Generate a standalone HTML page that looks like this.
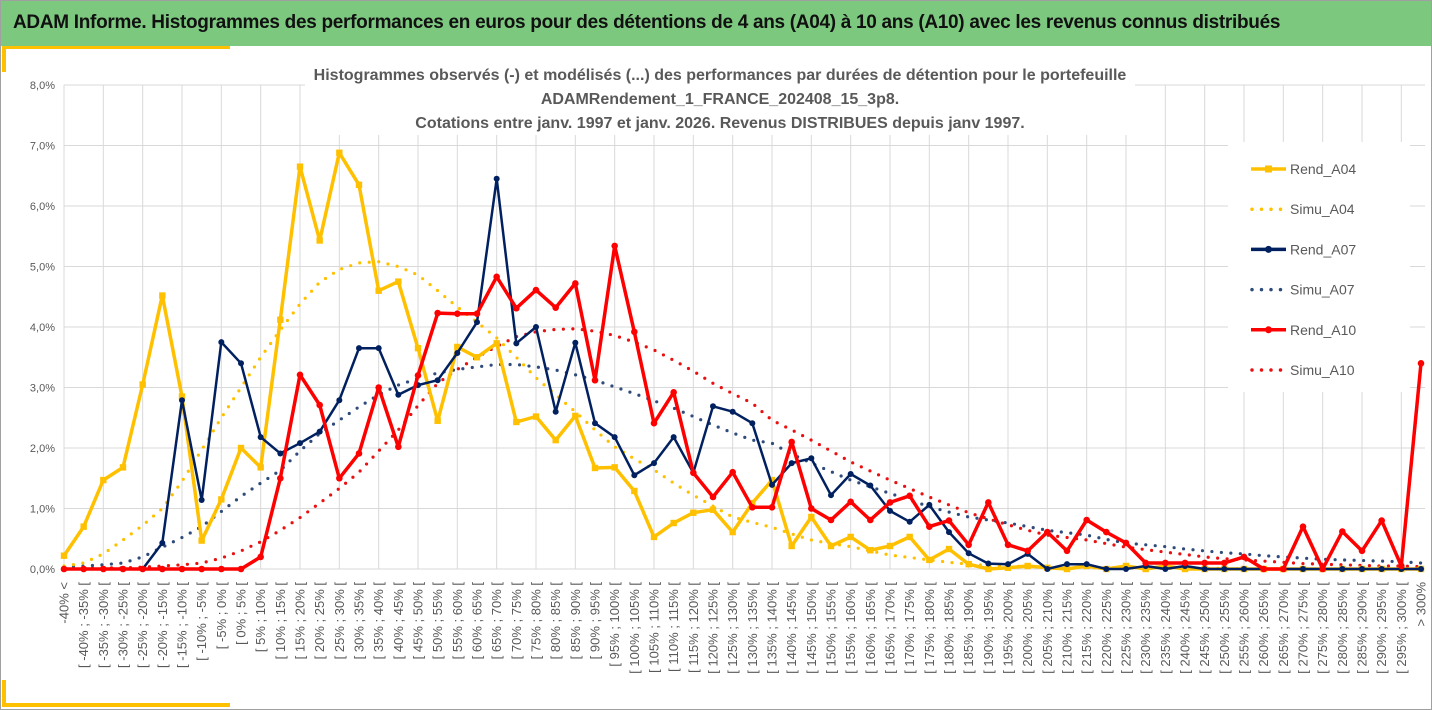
<!DOCTYPE html>
<html><head><meta charset="utf-8">
<style>
html,body{margin:0;padding:0;background:#fff;}
body{width:1432px;height:710px;overflow:hidden;position:relative;font-family:"Liberation Sans",sans-serif;}
#frame{position:absolute;left:0;top:0;width:1430px;height:708px;border:1px solid #a0a0a0;}
#header{position:absolute;left:1px;top:1px;width:1430px;height:45px;background:#7dc87f;}
#header span{position:absolute;left:12px;top:11px;font-size:19px;font-weight:bold;color:#111;white-space:nowrap;letter-spacing:-0.3px;}
</style></head><body>
<div id="frame"></div>
<div id="header"><span>ADAM Informe. Histogrammes des performances en euros pour des détentions de 4 ans (A04) à 10 ans (A10) avec les revenus connus distribués</span></div>
<svg id="chart" width="1432" height="710" style="position:absolute;left:0;top:0">
  <rect x="5" y="46" width="225" height="3" fill="#ffc000"/>
  <rect x="2" y="46" width="4" height="26" fill="#ffc000"/>
  <rect x="5" y="703" width="225" height="4" fill="#ffc000"/>
  <rect x="2" y="680" width="4" height="27" fill="#ffc000"/>
  <g id="grid"></g>
  <rect x="305" y="60" width="830" height="75" fill="#fff"/>
  <g font-family="Liberation Sans, sans-serif" font-size="16" font-weight="bold" fill="#595959" text-anchor="middle">
    <text x="720" y="80">Histogrammes observés (-) et modélisés (...) des performances par durées de détention pour le portefeuille</text>
    <text x="720" y="104">ADAMRendement_1_FRANCE_202408_15_3p8.</text>
    <text x="720" y="128">Cotations entre janv. 1997 et janv. 2026. Revenus DISTRIBUES depuis janv 1997.</text>
  </g>
  <g id="yaxis"></g>
  <g id="xaxis"></g>
  <g id="series"></g>
  <g id="legend"></g>
</svg>
<script>
const rendA04=[0.22,0.7,1.47,1.68,3.05,4.52,2.85,0.47,1.15,2.0,1.68,4.12,6.65,5.43,6.88,6.35,4.6,4.75,3.65,2.45,3.67,3.5,3.73,2.43,2.52,2.13,2.53,1.67,1.68,1.29,0.53,0.76,0.93,0.98,0.61,1.09,1.47,0.38,0.86,0.38,0.53,0.31,0.38,0.53,0.15,0.33,0.08,0.0,0.02,0.05,0.02,0,0.05,0,0.05,0,0.05,0,0,0,0,0,0,0,0,0,0,0,0,0];
const simuA04=[0.05,0.1,0.25,0.48,0.72,1.0,1.45,1.97,2.5,3.0,3.5,3.95,4.38,4.74,4.95,5.06,5.08,5.0,4.86,4.6,4.33,4.08,3.82,3.5,3.16,2.88,2.6,2.3,2.02,1.82,1.64,1.42,1.22,1.04,0.86,0.77,0.69,0.58,0.48,0.42,0.37,0.3,0.23,0.19,0.15,0.11,0.08,0.06,0.05,0.04,0.03,0.03,0.02,0.02,0.02,0.01,0.01,0.01,0.01,0.01,0,0,0,0,0,0,0,0,0,0];
const rendA07=[0,0,0,0,0,0.43,2.79,1.14,3.75,3.4,2.18,1.91,2.08,2.27,2.79,3.65,3.65,2.88,3.04,3.12,3.57,4.08,6.45,3.73,4.0,2.6,3.74,2.41,2.18,1.55,1.75,2.18,1.59,2.69,2.6,2.41,1.39,1.75,1.83,1.22,1.57,1.38,0.96,0.78,1.06,0.61,0.26,0.09,0.08,0.25,0,0.08,0.08,0,0,0.05,0,0.05,0,0,0,0,0,0,0,0,0,0,0,0];
const simuA07=[0.03,0.05,0.07,0.1,0.2,0.36,0.52,0.7,0.95,1.2,1.42,1.63,1.95,2.24,2.46,2.68,2.88,3.04,3.15,3.24,3.3,3.34,3.38,3.38,3.34,3.29,3.21,3.12,3.01,2.9,2.78,2.66,2.52,2.38,2.25,2.13,2.08,1.9,1.75,1.61,1.47,1.36,1.25,1.14,1.03,0.94,0.86,0.81,0.76,0.7,0.64,0.6,0.56,0.49,0.43,0.4,0.37,0.33,0.3,0.27,0.25,0.22,0.2,0.18,0.16,0.15,0.14,0.13,0.12,0.1];
const rendA10=[0,0,0,0,0,0,0,0,0,0,0.2,1.5,3.21,2.71,1.5,1.91,3.0,2.02,3.2,4.23,4.22,4.22,4.83,4.31,4.61,4.32,4.72,3.12,5.34,3.92,2.41,2.92,1.59,1.19,1.6,1.02,1.02,2.1,1.0,0.81,1.11,0.81,1.1,1.21,0.7,0.8,0.4,1.1,0.4,0.3,0.61,0.3,0.81,0.61,0.43,0.1,0.1,0.1,0.1,0.1,0.2,0,0,0.7,0,0.62,0.3,0.8,0.05,3.4];
const simuA10=[0.01,0.01,0.02,0.02,0.03,0.05,0.07,0.1,0.18,0.3,0.45,0.64,0.85,1.09,1.33,1.6,1.95,2.3,2.7,3.07,3.3,3.5,3.68,3.84,3.92,3.96,3.97,3.93,3.86,3.75,3.62,3.45,3.27,3.07,2.9,2.74,2.46,2.3,2.13,1.95,1.77,1.62,1.47,1.33,1.19,1.06,0.93,0.83,0.73,0.64,0.56,0.52,0.48,0.42,0.36,0.32,0.28,0.24,0.2,0.17,0.15,0.13,0.11,0.09,0.08,0.07,0.06,0.05,0.05,0.04];
const yTicks=[0,1,2,3,4,5,6,7,8];
const xLabels=["-40% <"];
for(let v=-40;v<300;v+=5){xLabels.push("[ "+v+"% ; "+(v+5)+"% [");}
xLabels.push("> 300%");

const NS="http://www.w3.org/2000/svg";
const X0=64,X1=1421,Y0=569,YPX=60.5;
function xs(i){return X0+i*(X1-X0)/(xLabels.length-1);}
function ys(v){return Y0-v*YPX;}
function mk(tag,attrs,parent){const e=document.createElementNS(NS,tag);for(const k in attrs)e.setAttribute(k,attrs[k]);parent.appendChild(e);return e;}

const grid=document.getElementById('grid');
yTicks.forEach(t=>{
  const l=mk('line',{x1:X0,x2:1425,y1:ys(t),y2:ys(t),stroke:'#d9d9d9','stroke-width':1},grid);
  
  
});
for(let i=0;i<xLabels.length;i+=2){
  const l=mk('line',{x1:xs(i),x2:xs(i),y1:ys(8),y2:Y0,stroke:'#d9d9d9','stroke-width':1},grid);
  
  
}
const ya=document.getElementById('yaxis');
yTicks.forEach(t=>{
  const tx=mk('text',{x:55,y:ys(t)+4,'text-anchor':'end','font-size':11,fill:'#595959'},ya);
  tx.textContent=t.toFixed(1).replace('.',',')+'%';
  
  
});
const xa=document.getElementById('xaxis');
xLabels.forEach((s,i)=>{
  const x=xs(i)+4.5, y=582;
  const tx=mk('text',{x:x,y:y,'text-anchor':'end','font-size':13,fill:'#595959',transform:`rotate(-90 ${x} ${y})`},xa);
  tx.textContent=s;
  
  
});

const ser=document.getElementById('series');
function pts(arr){return arr.map((v,i)=>xs(i).toFixed(1)+','+ys(v).toFixed(1)).join(' ');}
function dotted(arr,color,name){
  const p=mk('polyline',{points:pts(arr),fill:'none',stroke:color,'stroke-width':3.2,'stroke-linecap':'round','stroke-dasharray':'0 9.5'},ser);
  
  
}
function solid(arr,color,w,marker,ms,name){
  const g=mk('g',{},ser);
  
  
  mk('polyline',{points:pts(arr),fill:'none',stroke:color,'stroke-width':w,'stroke-linejoin':'round'},g);
  arr.forEach((v,i)=>{
    let m;
    if(marker==='sq') m=mk('rect',{x:xs(i)-ms,y:ys(v)-ms,width:2*ms,height:2*ms,fill:color},g);
    else m=mk('circle',{cx:xs(i),cy:ys(v),r:ms,fill:color},g);
    
    
  });
}
dotted(simuA10,'#e81010','simu-a10-line');
dotted(simuA07,'#2f4b7c','simu-a07-line');
dotted(simuA04,'#ffc000','simu-a04-line');
solid(rendA04,'#ffc000',3.5,'sq',3.2,'rend-a04-line');
solid(rendA07,'#002060',2.5,'c',3,'rend-a07-line');
solid(rendA10,'#ff0000',3.5,'c',3.3,'rend-a10-line');

const lg=document.getElementById('legend');
const bg=mk('rect',{x:1228,y:142,width:182,height:250,fill:'#fff'},lg);


const entries=[["Rend_A04",'#ffc000','solid','sq'],["Simu_A04",'#ffc000','dot'],["Rend_A07",'#002060','solid','c'],["Simu_A07",'#2f4b7c','dot'],["Rend_A10",'#ff0000','solid','c'],["Simu_A10",'#e81010','dot']];
entries.forEach((e,k)=>{
  const y=169+k*40.2;
  const g=mk('g',{},lg);
  
  
  if(e[2]==='solid'){
    mk('line',{x1:1251,x2:1286,y1:y,y2:y,stroke:e[1],'stroke-width':3.5},g);
    if(e[3]==='sq') mk('rect',{x:1265,y:y-3.5,width:7,height:7,fill:e[1]},g);
    else mk('circle',{cx:1268.5,cy:y,r:3.5,fill:e[1]},g);
  } else {
    mk('line',{x1:1252,x2:1284,y1:y,y2:y,stroke:e[1],'stroke-width':3.5,'stroke-linecap':'round','stroke-dasharray':'0 9.5'},g);
  }
  const t=mk('text',{x:1290,y:y+5,'font-size':14,fill:'#595959'},g);
  t.textContent=e[0];
});
</script>
</body></html>
